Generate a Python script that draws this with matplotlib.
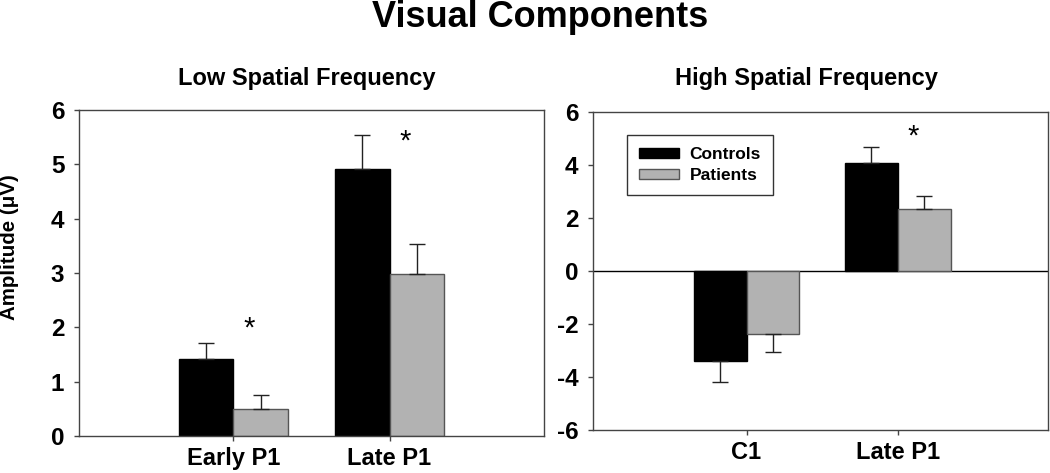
import numpy as np
import matplotlib
matplotlib.use("Agg")
import matplotlib.pyplot as plt

plt.rcParams["font.family"] = ["Liberation Sans", "DejaVu Sans"]
plt.rcParams["font.weight"] = "bold"
plt.rcParams["axes.unicode_minus"] = False

# data
low_cats = ["Early P1", "Late P1"]
low_controls = [1.41, 4.91]
low_controls_err = [0.30, 0.63]
low_patients = [0.49, 2.99]
low_patients_err = [0.26, 0.54]
low_star = [1.97, 5.41]

high_cats = ["C1", "Late P1"]
high_controls = [-3.38, 4.09]
high_controls_err = [0.81, 0.60]
high_patients = [-2.38, 2.33]
high_patients_err = [0.69, 0.50]
high_star = [None, 5.07]

ctrl_color = "black"
pat_color = "#b2b2b2"
spine_color = "#444444"
w = 0.35


def draw_panel(ax, cats, ctrl, ctrl_err, pat, pat_err, stars):
    x = np.arange(len(cats))
    ctrl = np.array(ctrl)
    pat = np.array(pat)
    ax.bar(x - w / 2, ctrl, w, color=ctrl_color, edgecolor="black", linewidth=1, label="Controls", zorder=2)
    ax.bar(x + w / 2, pat, w, color=pat_color, edgecolor="#555555", linewidth=1, label="Patients", zorder=2)
    # one-sided error bars (away from zero)
    for xs, vals, errs in [(x - w / 2, ctrl, ctrl_err), (x + w / 2, pat, pat_err)]:
        errs = np.array(errs)
        lower = np.where(vals < 0, errs, 0)
        upper = np.where(vals >= 0, errs, 0)
        ax.errorbar(xs, vals, yerr=[lower, upper], fmt="none", ecolor="#222222",
                    elinewidth=1, capsize=6, capthick=1, zorder=3)
    for xi, s in zip(x, stars):
        if s is not None:
            ax.text(xi + 0.1, s, "*", ha="center", va="center", fontsize=21, fontweight="normal")
    ax.set_xticks(x)
    ax.set_xticklabels(cats, fontsize=17, fontweight="bold")
    for sp in ax.spines.values():
        sp.set_color(spine_color)
        sp.set_linewidth(1)
    ax.tick_params(axis="both", direction="out", length=3.6, color=spine_color, width=1)
    ax.tick_params(axis="y", labelsize=17.5, pad=7)
    ax.tick_params(axis="x", pad=4.5)


fig = plt.figure(figsize=(10.5, 4.73), dpi=100)

ax1 = fig.add_axes([79 / 1050, 1 - 436 / 473, 465 / 1050, 326 / 473])
draw_panel(ax1, low_cats, low_controls, low_controls_err, low_patients, low_patients_err, low_star)
ax1.set_xlim(-0.99, 1.99)
ax1.set_ylim(0, 6)
ax1.set_yticks(range(0, 7))
for lab in ax1.get_yticklabels():
    lab.set_fontweight("bold")
ax1.set_ylabel("Amplitude (\u03bcV)", fontsize=14.8, fontweight="bold")
ax1.yaxis.set_label_coords(-0.129, 0.58)

ax2 = fig.add_axes([593 / 1050, 1 - 430 / 473, 455 / 1050, 318 / 473])
draw_panel(ax2, high_cats, high_controls, high_controls_err, high_patients, high_patients_err, high_star)
ax2.set_xlim(-1.016, 1.995)
ax2.set_ylim(-6, 6)
ax2.set_yticks(range(-6, 7, 2))
for lab in ax2.get_yticklabels():
    lab.set_fontweight("bold")
ax2.axhline(0, color="black", linewidth=1, zorder=1)
leg = ax2.legend(loc="upper left", bbox_to_anchor=(0.0747, 0.928), borderaxespad=0, frameon=True,
                 fancybox=False, edgecolor="black", handlelength=2.3, handleheight=0.55,
                 handletextpad=0.6, borderpad=0.7, labelspacing=0.35,
                 prop={"weight": "bold", "size": 12.5})
leg.get_frame().set_linewidth(1)

fig.text(0.514, 0.964, "Visual Components", ha="center", va="center", fontsize=26, fontweight="bold")
fig.text(307 / 1050, 1 - 79 / 473, "Low Spatial Frequency", ha="center", va="center", fontsize=17, fontweight="bold")
fig.text(806 / 1050, 1 - 79 / 473, "High Spatial Frequency", ha="center", va="center", fontsize=17, fontweight="bold")

fig.savefig("out.png", dpi=100)
